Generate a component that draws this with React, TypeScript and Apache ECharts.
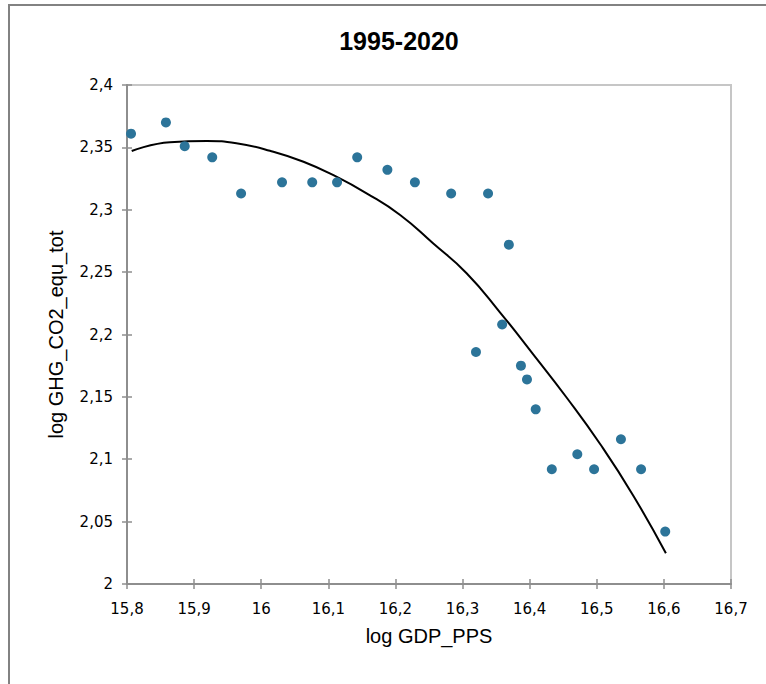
import React, { useEffect, useRef } from "react";
import * as echarts from "echarts";

const titleText = "1995-2020";
const xAxisTitle = "log GDP_PPS";
const yAxisTitle = "log GHG_CO2_equ_tot";

const gdpLog = [
  15.806, 15.858, 15.886, 15.927, 15.97, 16.031, 16.076, 16.113, 16.143, 16.188,
  16.229, 16.283, 16.338, 16.369, 16.359, 16.32, 16.387, 16.396, 16.409, 16.433,
  16.471, 16.496, 16.536, 16.566, 16.602,
];
const ghgLog = [
  2.361, 2.37, 2.351, 2.342, 2.313, 2.322, 2.322, 2.322, 2.342, 2.332,
  2.322, 2.313, 2.313, 2.272, 2.208, 2.186, 2.175, 2.164, 2.14, 2.092,
  2.104, 2.092, 2.116, 2.092, 2.042,
];

// trend curve
const trendX = [
  15.807, 15.864, 15.919, 15.963, 16.013, 16.063, 16.112, 16.157, 16.207,
  16.256, 16.306, 16.356, 16.405, 16.455, 16.505, 16.554, 16.603,
];
const trendY = [
  2.3471, 2.3541, 2.3551, 2.3533, 2.3473, 2.3385, 2.3265, 2.3132, 2.2958,
  2.2731, 2.2491, 2.2176, 2.1843, 2.1495, 2.1122, 2.0712, 2.0246,
];

const xMin = 15.8;
const xMax = 16.7;
const xStep = 0.1;
const yMin = 2.0;
const yMax = 2.4;
const yStep = 0.05;

const fmt = (v: number) => {
  let s = Number(v).toFixed(2);
  s = s.replace(/0+$/, "").replace(/\.$/, "");
  return s.replace(".", ",");
};

export default function App() {
  const ref = useRef<HTMLDivElement>(null);
  useEffect(() => {
    if (!ref.current) return;
    const chart = echarts.init(ref.current, undefined, { renderer: "svg" });
    const axisGray = "#8e8e8e";
    const labelFont = "DejaVu Sans";
    const baseAxis = {
      type: "value" as const,
      splitLine: { show: false },
    };
    chart.setOption({
      animation: false,
      backgroundColor: "#ffffff",
      title: {
        text: titleText,
        left: 394,
        textAlign: "center",
        top: 23,
        textStyle: {
          fontFamily: "Liberation Sans",
          fontWeight: "bold",
          fontSize: 25,
          color: "#000000",
        },
      },
      grid: {
        left: 127,
        top: 85,
        right: 35,
        bottom: 100,
        show: true,
        borderColor: "#c6c6c6",
        borderWidth: 2,
        backgroundColor: "transparent",
      },
      graphic: [
        {
          type: "polyline",
          shape: { points: [[9, 700], [9, 5], [780, 5]] },
          style: { stroke: "#828282", lineWidth: 2, fill: null },
          silent: true,
        },
      ],
      xAxis: [
        {
          ...baseAxis,
          min: xMin,
          max: xMax,
          interval: xStep,
          name: xAxisTitle,
          nameLocation: "middle",
          nameGap: 42,
          nameTextStyle: {
            fontFamily: "Liberation Sans",
            fontSize: 20,
            color: "#000000",
          },
          axisLine: { show: true, lineStyle: { color: axisGray, width: 2 } },
          axisTick: { show: true, length: 5, lineStyle: { color: axisGray, width: 1.5 } },
          axisLabel: {
            formatter: fmt,
            margin: 17,
            fontFamily: labelFont,
            fontSize: 15,
            color: "#000000",
          },
        },
        {
          ...baseAxis,
          min: xMin,
          max: xMax,
          interval: xStep,
          position: "bottom",
          axisLine: { show: false },
          axisTick: { show: true, inside: true, length: 5, lineStyle: { color: axisGray, width: 1.5 } },
          axisLabel: { show: false },
        },
      ],
      yAxis: [
        {
          ...baseAxis,
          min: yMin,
          max: yMax,
          interval: yStep,
          name: yAxisTitle,
          nameLocation: "middle",
          nameGap: 61,
          nameTextStyle: {
            fontFamily: "Liberation Sans",
            fontSize: 20,
            color: "#000000",
          },
          axisLine: { show: true, lineStyle: { color: axisGray, width: 2 } },
          axisTick: { show: true, length: 5, lineStyle: { color: axisGray, width: 1.5 } },
          axisLabel: {
            formatter: fmt,
            margin: 14,
            fontFamily: labelFont,
            fontSize: 15,
            color: "#000000",
          },
        },
        {
          ...baseAxis,
          min: yMin,
          max: yMax,
          interval: yStep,
          position: "left",
          axisLine: { show: false },
          axisTick: { show: true, inside: true, length: 5, lineStyle: { color: axisGray, width: 1.5 } },
          axisLabel: { show: false },
        },
      ],
      series: [
        {
          type: "line",
          name: "trend",
          data: trendX.map((x, i) => [x, trendY[i]]),
          smooth: true,
          showSymbol: false,
          symbol: "none",
          lineStyle: { color: "#000000", width: 2 },
          z: 2,
          silent: true,
        },
        {
          type: "scatter",
          name: "data",
          data: gdpLog.map((x, i) => [x, ghgLog[i]]),
          symbolSize: 10,
          itemStyle: { color: "#2c7499", opacity: 1 },
          z: 3,
        },
      ],
    });
    return () => chart.dispose();
  }, []);
  return (
    <div
      ref={ref}
      style={{ position: "absolute", left: 0, top: 0, width: 766, height: 684 }}
    />
  );
}
